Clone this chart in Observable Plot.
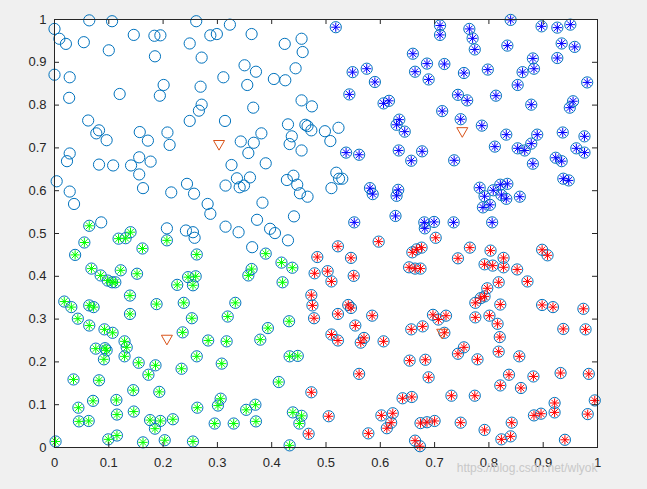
<!DOCTYPE html>
<html><head><meta charset="utf-8">
<script src="https://cdn.jsdelivr.net/npm/d3@7"></script>
<script src="https://cdn.jsdelivr.net/npm/@observablehq/plot@0.6"></script>
<style>html,body{margin:0;padding:0;background:#f0f0f0;}#chart{width:647px;height:489px;}</style>
</head><body><div id="chart"></div>
<script>
// Cluster 1 (upper-left): circle only
const clusterA = [[0.064,0.998],[0.106,0.996],[0.0,0.978],[0.009,0.955],[0.021,0.943],[0.054,0.947],[0.100,0.928],[0.146,0.964],[0.184,0.962],[0.195,0.963],[0.249,0.944],[0.185,0.914],[0.0,0.871],[0.028,0.865],[0.201,0.847],[0.120,0.826],[0.027,0.817],[0.194,0.822],[0.062,0.764],[0.249,0.763],[0.082,0.741],[0.077,0.734],[0.096,0.718],[0.157,0.737],[0.172,0.717],[0.208,0.736],[0.212,0.707],[0.028,0.687],[0.023,0.669],[0.082,0.661],[0.108,0.659],[0.141,0.659],[0.156,0.678],[0.177,0.668],
[0.156,0.638],[0.004,0.622],[0.028,0.598],[0.036,0.569],[0.163,0.606],[0.215,0.596],[0.244,0.616],[0.086,0.526],[0.207,0.512],[0.242,0.507],
[0.326,0.660],[0.389,0.664],[0.257,0.593],[0.315,0.612],[0.336,0.629],[0.341,0.608],[0.349,0.612],[0.360,0.631],[0.428,0.625],[0.440,0.635],[0.447,0.614],[0.452,0.594],[0.466,0.586],[0.282,0.569],[0.287,0.546],[0.383,0.572],[0.373,0.532],[0.441,0.540],[0.315,0.516],[0.339,0.503],[0.397,0.511],[0.406,0.501],[0.255,0.503],[0.258,0.490],[0.430,0.484],[0.364,0.468],
[0.261,0.996],[0.323,0.988],[0.287,0.963],[0.299,0.966],[0.363,0.966],[0.424,0.943],[0.455,0.955],[0.457,0.924],[0.271,0.911],[0.350,0.893],[0.371,0.878],[0.444,0.886],[0.311,0.865],[0.355,0.847],[0.404,0.861],[0.425,0.858],[0.269,0.843],[0.455,0.811],[0.474,0.797],[0.271,0.801],[0.266,0.787],[0.366,0.794],[0.314,0.763],[0.430,0.755],[0.462,0.754],[0.466,0.751],[0.473,0.741],[0.498,0.739],[0.381,0.734],[0.437,0.727],[0.433,0.709],[0.343,0.715],[0.367,0.712],[0.357,0.688],[0.455,0.694],
[0.523,0.747],[0.508,0.716],[0.519,0.642],[0.524,0.628],[0.530,0.628],[0.510,0.606]];

// Cluster 2 (upper-right): blue asterisks
const clusterB = [[0.518,0.982],[0.710,0.986],[0.710,0.964],[0.660,0.920],[0.549,0.877],[0.575,0.885],[0.590,0.854],[0.664,0.878],[0.686,0.897],[0.718,0.896],[0.689,0.860],[0.543,0.825],[0.606,0.804],[0.616,0.810],[0.743,0.824],[0.635,0.766],[0.630,0.754],[0.645,0.738],[0.714,0.786],[0.748,0.767],[0.537,0.689],[0.561,0.684],[0.634,0.694],[0.677,0.692],[0.657,0.670],[0.736,0.671],
[0.840,0.999],[0.764,0.978],[0.770,0.956],[0.774,0.930],[0.897,0.984],[0.926,0.981],[0.950,0.988],[0.834,0.939],[0.934,0.944],[0.958,0.936],[0.881,0.909],[0.926,0.910],[0.754,0.875],[0.798,0.883],[0.862,0.877],[0.883,0.885],[0.981,0.853],[0.853,0.847],[0.760,0.811],[0.813,0.822],[0.878,0.801],[0.955,0.809],[0.949,0.794],[0.787,0.752],[0.832,0.731],[0.889,0.731],[0.878,0.710],[0.853,0.699],[0.866,0.694],[0.811,0.703],[0.936,0.736],[0.976,0.727],[0.961,0.699],[0.976,0.689],[0.881,0.663],[0.923,0.677],[0.934,0.669],
[0.783,0.607],[0.792,0.587],[0.808,0.601],[0.821,0.614],[0.834,0.616],[0.823,0.590],[0.832,0.581],[0.802,0.567],[0.789,0.561],[0.857,0.586],[0.937,0.628],[0.947,0.624],[0.806,0.526],
[0.581,0.606],[0.586,0.592],[0.633,0.602],[0.630,0.588],[0.628,0.541],[0.552,0.526],[0.681,0.526],[0.699,0.527],[0.682,0.512],[0.735,0.526]];

// Cluster 3 (lower-right): red asterisks
const clusterC = [[0.765,0.467],[0.743,0.442],[0.803,0.460],[0.827,0.443],[0.792,0.428],[0.807,0.425],[0.827,0.421],[0.852,0.416],[0.898,0.462],[0.908,0.449],[0.818,0.386],[0.871,0.388],[0.797,0.372],[0.792,0.353],[0.785,0.349],[0.775,0.338],[0.821,0.334],[0.898,0.333],[0.918,0.328],[0.974,0.324],
[0.775,0.304],[0.801,0.308],[0.816,0.289],[0.820,0.258],[0.754,0.234],[0.743,0.219],[0.818,0.224],[0.779,0.206],[0.856,0.213],[0.937,0.277],[0.978,0.276],[0.837,0.170],[0.821,0.145],[0.859,0.139],[0.882,0.166],[0.932,0.174],[0.984,0.172],[0.774,0.121],[0.731,0.121],[0.995,0.110],[0.921,0.104],[0.921,0.082],[0.883,0.075],[0.896,0.079],[0.982,0.078],[0.748,0.058],[0.842,0.058],[0.792,0.041],[0.823,0.019],[0.840,0.026],[0.940,0.018],
[0.546,0.326],[0.541,0.333],[0.522,0.312],[0.585,0.308],[0.554,0.285],[0.510,0.264],[0.522,0.250],[0.570,0.256],[0.564,0.245],[0.606,0.248],[0.697,0.310],[0.707,0.299],[0.721,0.308],[0.657,0.276],[0.678,0.283],[0.718,0.268],[0.654,0.203],[0.683,0.205],[0.561,0.172],[0.689,0.164],[0.641,0.115],[0.658,0.118],[0.505,0.073],[0.602,0.075],[0.623,0.080],[0.620,0.058],[0.612,0.045],[0.578,0.033],[0.674,0.057],[0.686,0.059],[0.700,0.062],[0.664,0.016],[0.673,0.003],
[0.522,0.470],[0.597,0.481],[0.702,0.490],[0.546,0.443],[0.659,0.456],[0.667,0.463],[0.676,0.467],[0.503,0.412],[0.510,0.388],[0.551,0.401],[0.653,0.421],[0.664,0.418],[0.674,0.418],
[0.484,0.445],[0.479,0.407],[0.473,0.356],[0.475,0.332],[0.478,0.302],[0.473,0.129],[0.468,0.032]];

// Cluster 4 (lower-left): green asterisks
const clusterD = [[0.064,0.518],[0.055,0.479],[0.038,0.450],[0.118,0.488],[0.131,0.489],[0.140,0.503],[0.162,0.465],[0.207,0.484],[0.068,0.418],[0.085,0.402],[0.098,0.390],[0.106,0.386],[0.112,0.386],[0.122,0.414],[0.152,0.406],[0.139,0.355],[0.226,0.380],[0.246,0.398],[0.018,0.341],[0.031,0.328],[0.064,0.332],[0.072,0.328],[0.188,0.335],[0.238,0.338],
[0.043,0.301],[0.064,0.285],[0.139,0.312],[0.092,0.276],[0.107,0.268],[0.076,0.231],[0.093,0.232],[0.096,0.227],[0.091,0.206],[0.129,0.248],[0.133,0.234],[0.129,0.213],[0.155,0.198],[0.186,0.192],[0.173,0.170],[0.236,0.269],[0.234,0.184],[0.253,0.302],[0.035,0.159],[0.082,0.157],[0.145,0.134],[0.193,0.130],[0.071,0.109],[0.114,0.111],[0.044,0.093],[0.115,0.077],[0.146,0.084],[0.045,0.061],[0.063,0.062],[0.176,0.064],[0.195,0.062],[0.218,0.066],[0.185,0.044],[0.002,0.014],[0.099,0.019],[0.115,0.028],[0.163,0.012],[0.203,0.017],[0.255,0.014],
[0.262,0.451],[0.389,0.453],[0.418,0.432],[0.438,0.420],[0.363,0.417],[0.357,0.402],[0.260,0.400],[0.255,0.379],[0.420,0.386],[0.333,0.338],
[0.319,0.306],[0.283,0.250],[0.317,0.248],[0.393,0.279],[0.379,0.252],[0.432,0.295],[0.262,0.213],[0.308,0.196],[0.433,0.213],[0.448,0.214],[0.413,0.153],[0.306,0.114],[0.301,0.098],[0.263,0.093],[0.353,0.088],[0.370,0.100],[0.295,0.056],[0.330,0.056],[0.371,0.061],[0.439,0.082],[0.455,0.074],[0.451,0.056],[0.433,0.005]];

// Cluster centroids
const centroids = [[0.303,0.707],[0.751,0.737],[0.207,0.252],[0.714,0.266]];

const xTicks = [0,0.1,0.2,0.3,0.4,0.5,0.6,0.7,0.8,0.9,1];
const yTicks = [0,0.1,0.2,0.3,0.4,0.5,0.6,0.7,0.8,0.9,1];
const tickLabels = ["0","0.1","0.2","0.3","0.4","0.5","0.6","0.7","0.8","0.9","1"];
const watermark = "https://blog.csdn.net/wlyok";

const asterisk8 = {draw(ctx, size) {
  const r = Math.sqrt(size / Math.PI), d = r * Math.SQRT1_2;
  ctx.moveTo(-r, 0); ctx.lineTo(r, 0);
  ctx.moveTo(0, -r); ctx.lineTo(0, r);
  ctx.moveTo(-d, -d); ctx.lineTo(d, d);
  ctx.moveTo(-d, d); ctx.lineTo(d, -d);
}};
const triangleDown = {draw(ctx, size) {
  const r = Math.sqrt(size / Math.PI);
  ctx.moveTo(-r, -r * 0.8); ctx.lineTo(r, -r * 0.8); ctx.lineTo(0, r * 0.95); ctx.closePath();
}};

const allPts = [...clusterA, ...clusterB, ...clusterC, ...clusterD];
const fmt = d => tickLabels[xTicks.indexOf(d)];
const axisColor = "#262626";

const chart = Plot.plot({
  width: 647, height: 489,
  marginLeft: 54, marginRight: 50, marginTop: 19, marginBottom: 42,
  x: {domain: [0, 1]},
  y: {domain: [0, 1]},
  style: {background: "#f0f0f0", fontFamily: "'Liberation Sans', Arial, sans-serif", fontSize: "13px", color: axisColor},
  marks: [
    Plot.frame({fill: "white"}),
    Plot.dot(allPts, {x: d => d[0], y: d => d[1], r: 5.6, stroke: "#0072BD", fill: "none", strokeWidth: 1}),
    Plot.dot(clusterB, {x: d => d[0], y: d => d[1], r: 4.6, symbol: asterisk8, stroke: "#0000FF", fill: "none", strokeWidth: 1}),
    Plot.dot(clusterC, {x: d => d[0], y: d => d[1], r: 4.6, symbol: asterisk8, stroke: "#FF0000", fill: "none", strokeWidth: 1}),
    Plot.dot(clusterD, {x: d => d[0], y: d => d[1], r: 4.6, symbol: asterisk8, stroke: "#00FF00", fill: "none", strokeWidth: 1}),
    Plot.dot(centroids, {x: d => d[0], y: d => d[1], r: 5.5, symbol: triangleDown, stroke: "#D95319", fill: "none", strokeWidth: 1}),
    Plot.tickX(xTicks, {x: d => d, insetTop: 423, stroke: axisColor}),
    Plot.tickX(xTicks, {x: d => d, insetBottom: 423, stroke: axisColor}),
    Plot.tickY(yTicks, {y: d => d, insetRight: 538, stroke: axisColor}),
    Plot.tickY(yTicks, {y: d => d, insetLeft: 538, stroke: axisColor}),
    Plot.axisX({ticks: xTicks, tickSize: 0, tickPadding: 10, tickFormat: fmt, label: null, fill: axisColor}),
    Plot.axisY({ticks: yTicks, tickSize: 0, tickPadding: 8, tickFormat: fmt, label: null, fill: axisColor}),
    Plot.frame({stroke: axisColor, strokeWidth: 1}),
    Plot.text([watermark], {text: d => d, frameAnchor: "bottom-right", textAnchor: "end", dy: 24, dx: 0, fill: "#c8c8c8", fontSize: 12})
  ]
});
document.getElementById("chart").appendChild(chart);
</script>
</body></html>
